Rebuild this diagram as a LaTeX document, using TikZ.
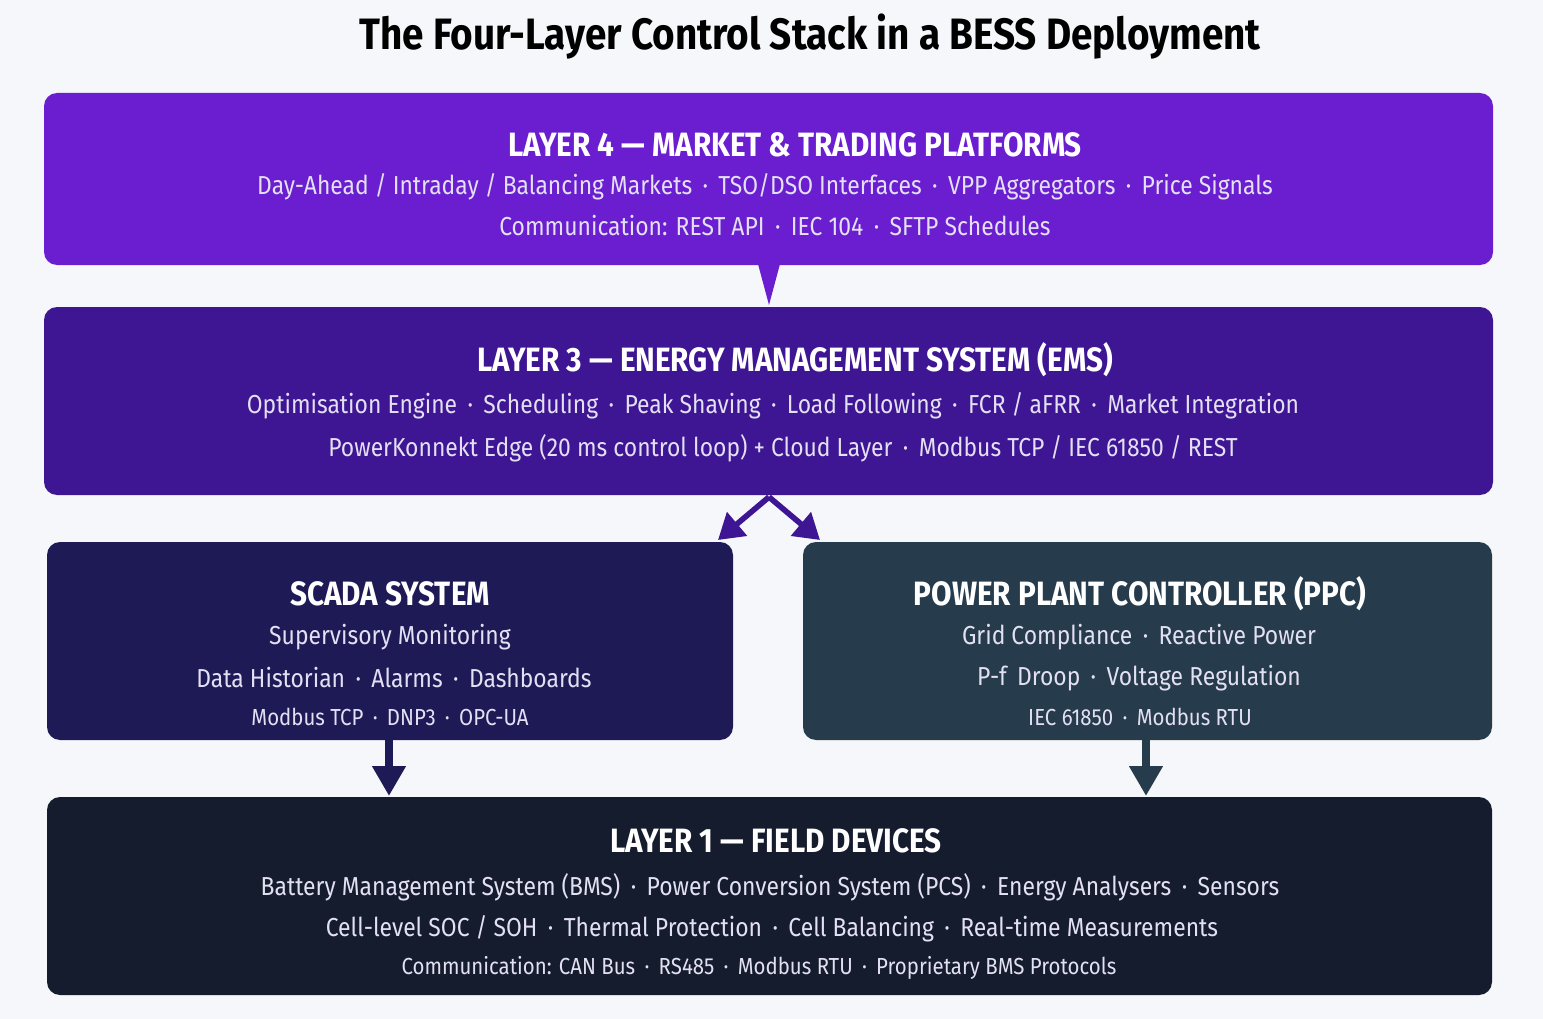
\documentclass[tikz,border=0pt]{standalone}
\usepackage{fontspec}
\setmainfont{Fira Sans}[FakeStretch=0.88]
\usetikzlibrary{positioning,arrows.meta}
\definecolor{bgcol}{HTML}{F6F7FA}
\definecolor{layerfour}{HTML}{6A1ED0}
\definecolor{layerthree}{HTML}{3E1592}
\definecolor{scadacol}{HTML}{1E1A55}
\definecolor{ppccol}{HTML}{263B4B}
\definecolor{layerone}{HTML}{151C2D}
\definecolor{subtxt}{HTML}{E4E0F4}
\tikzset{
  layerbox/.style={rounded corners=0.13cm, draw=none},
  headtxt/.style={text=white, font=\fontsize{9.6}{11}\selectfont\bfseries},
  bodytxt/.style={text=subtxt, font=\fontsize{7.4}{9}\selectfont},
  smalltxt/.style={text=subtxt, font=\fontsize{6.6}{8}\selectfont},
}
\begin{document}
\begin{tikzpicture}[x=1cm,y=1cm]
  \fill[bgcol] (0,0) rectangle (15.43,-10.19);
  \useasboundingbox (0,0) rectangle (15.43,-10.19);
  \node[font=\fontsize{12.5}{14}\selectfont\bfseries] (title) at (8.1,-0.37) {The Four-Layer Control Stack in a BESS Deployment};
  % layer 4
  \fill[layerbox, layerfour] (0.44,-0.93) rectangle (14.93,-2.65);
  \fill[layerfour] (7.58,-2.64) -- (7.80,-2.64) -- (7.69,-3.05) -- cycle;
  \node[headtxt] (lfourhead) at (7.95,-1.45) {LAYER 4 — MARKET \& TRADING PLATFORMS};
  \node[bodytxt] (lfourone) at (7.65,-1.87) {Day-Ahead / Intraday / Balancing Markets \,·\, TSO/DSO Interfaces \,·\, VPP Aggregators \,·\, Price Signals};
  \node[bodytxt] (lfourtwo) at (7.75,-2.26) {Communication: REST API \,·\, IEC 104 \,·\, SFTP Schedules};
  % layer 3
  \fill[layerbox, layerthree] (0.44,-3.07) rectangle (14.93,-4.95);
  \node[headtxt] (lthreehead) at (7.95,-3.60) {LAYER 3 — ENERGY MANAGEMENT SYSTEM (EMS)};
  \node[bodytxt] (lthreeone) at (7.73,-4.06) {Optimisation Engine \,·\, Scheduling \,·\, Peak Shaving \,·\, Load Following \,·\, FCR / aFRR \,·\, Market Integration};
  \node[bodytxt] (lthreetwo) at (7.83,-4.48) {PowerKonnekt Edge (20 ms control loop) + Cloud Layer \,·\, Modbus TCP / IEC 61850 / REST};
  % scada
  \fill[layerbox, scadacol] (0.47,-5.42) rectangle (7.33,-7.40);
  \node[headtxt] (scadahead) at (3.90,-5.94) {SCADA SYSTEM};
  \node[bodytxt] (scadaone) at (3.90,-6.37) {Supervisory Monitoring};
  \node[bodytxt] (scadatwo) at (3.94,-6.78) {Data Historian \,·\, Alarms \,·\, Dashboards};
  \node[smalltxt] (scadathree) at (3.90,-7.17) {Modbus TCP \,·\, DNP3 \,·\, OPC-UA};
  % ppc
  \fill[layerbox, ppccol] (8.03,-5.42) rectangle (14.92,-7.40);
  \node[headtxt] (ppchead) at (11.40,-5.94) {POWER PLANT CONTROLLER (PPC)};
  \node[bodytxt] (ppcone) at (11.39,-6.37) {Grid Compliance \,·\, Reactive Power};
  \node[bodytxt] (ppctwo) at (11.39,-6.78) {P-f\, Droop \,·\, Voltage Regulation};
  \node[smalltxt] (ppcthree) at (11.40,-7.17) {IEC 61850 \,·\, Modbus RTU};
  % layer 1
  \fill[layerbox, layerone] (0.47,-7.97) rectangle (14.92,-9.95);
  \node[headtxt] (lonehead) at (7.76,-8.41) {LAYER 1 — FIELD DEVICES};
  \node[bodytxt] (loneone) at (7.70,-8.87) {Battery Management System (BMS) \,·\, Power Conversion System (PCS) \,·\, Energy Analysers \,·\, Sensors};
  \node[bodytxt] (lonetwo) at (7.72,-9.29) {Cell-level SOC / SOH \,·\, Thermal Protection \,·\, Cell Balancing \,·\, Real-time Measurements};
  \node[smalltxt] (lonethree) at (7.59,-9.68) {Communication: CAN Bus \,·\, RS485 \,·\, Modbus RTU \,·\, Proprietary BMS Protocols};
  % connectors
  \coordinate (emsfork) at (7.69,-4.97);
  \coordinate (scadatop) at (7.18,-5.40);
  \coordinate (ppctop) at (8.20,-5.40);
  \draw[layerthree, line width=1.6pt, -{Triangle[length=0.25cm,width=0.3cm]}] (emsfork) -- (scadatop);
  \draw[layerthree, line width=1.6pt, -{Triangle[length=0.25cm,width=0.3cm]}] (emsfork) -- (ppctop);
  \coordinate (scadabot) at (3.89,-7.40);
  \coordinate (lonescada) at (3.89,-7.96);
  \coordinate (ppcbot) at (11.46,-7.40);
  \coordinate (loneppc) at (11.46,-7.96);
  \draw[scadacol, line width=2.2pt, -{Triangle[length=0.3cm,width=0.32cm]}] (scadabot) -- (lonescada);
  \draw[ppccol, line width=2.2pt, -{Triangle[length=0.3cm,width=0.32cm]}] (ppcbot) -- (loneppc);
\end{tikzpicture}
\end{document}
